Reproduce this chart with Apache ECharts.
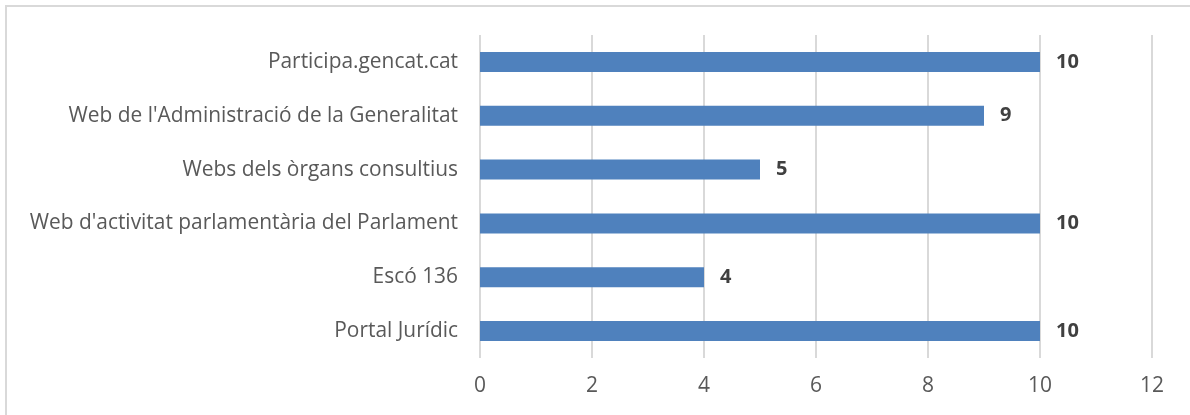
<!DOCTYPE html>
<html><head><meta charset="utf-8">
<script src="https://cdn.jsdelivr.net/npm/echarts@6/dist/echarts.min.js"></script>
<style>
html,body{margin:0;padding:0;background:#fff;}
#frame{position:absolute;left:5px;top:5px;width:1200px;height:420px;border-left:2px solid #d9d9d9;border-top:2px solid #d9d9d9;box-sizing:border-box;}
#c{position:absolute;left:0;top:0;width:1190px;height:415px;}
</style></head>
<body>
<div id="frame"></div>
<div id="c"></div>
<script>
const categories = ["Portal Jurídic","Escó 136","Web d'activitat parlamentària del Parlament","Webs dels òrgans consultius","Web de l'Administració de la Generalitat","Participa.gencat.cat"];
const values = [10,4,10,5,9,10];
const xTicks = {min:0,max:12,interval:2};

const chart = echarts.init(document.getElementById('c'), null, {renderer:'canvas'});
chart.setOption({
  animation:false,
  grid:{left:480,right:38,top:35,bottom:57,containLabel:false},
  xAxis:{type:'value',min:xTicks.min,max:xTicks.max,interval:xTicks.interval,
    axisLine:{show:false},axisTick:{show:false},
    splitLine:{lineStyle:{color:'#d9d9d9',width:2}},
    axisLabel:{color:'#595959',fontSize:21,fontFamily:'Open Sans',margin:18}},
  yAxis:{type:'category',data:categories,
    axisLine:{show:false},axisTick:{show:false},
    axisLabel:{color:'#595959',fontSize:20.9,fontFamily:'Open Sans',margin:22}},
  series:[{type:'bar',data:values,barWidth:20,
    itemStyle:{color:'#4f81bd'},
    label:{show:true,position:'right',distance:16,fontWeight:'bold',fontSize:20,color:'#404040',fontFamily:'Open Sans'}}]
});
</script>
</body></html>
